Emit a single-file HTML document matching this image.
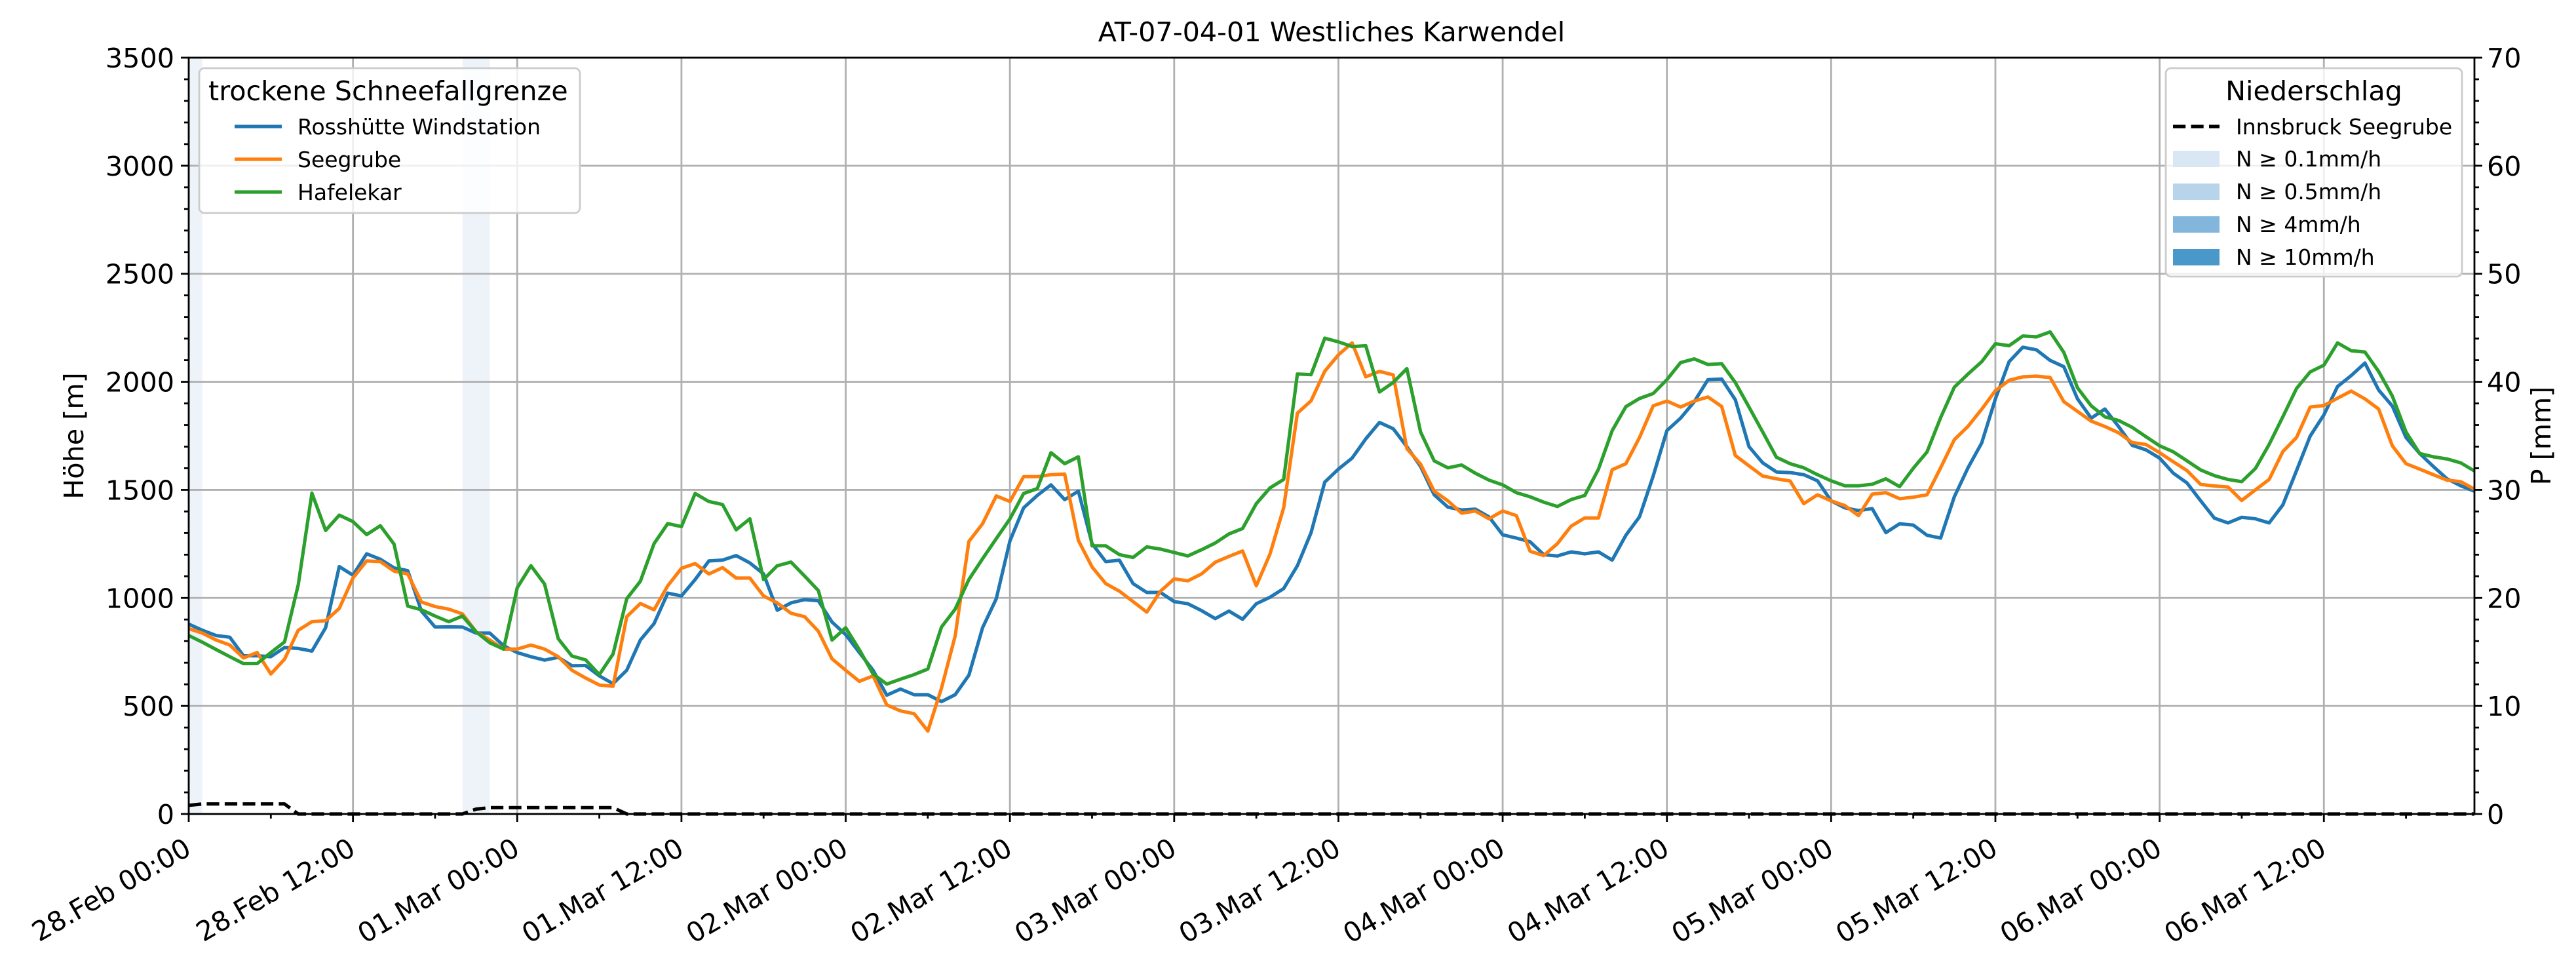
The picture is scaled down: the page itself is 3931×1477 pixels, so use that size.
<!DOCTYPE html>
<html><head><meta charset="utf-8">
<style>
html,body{margin:0;padding:0;background:#fff;}
svg{display:block;font-family:"DejaVu Sans","Liberation Sans",sans-serif;}
</style></head>
<body>
<svg id="chart" width="3931" height="1477" viewBox="0 0 3931 1477" xmlns="http://www.w3.org/2000/svg">
<rect x="0" y="0" width="3931" height="1477" fill="#fff"/>
<g id="spans"></g>
<g id="grid"></g>
<g id="series"></g>
<g id="axes"></g>
<g id="legends"></g>
</svg>
<script>
const xTickLabels = ["28.Feb 00:00","28.Feb 12:00","01.Mar 00:00","01.Mar 12:00","02.Mar 00:00","02.Mar 12:00","03.Mar 00:00","03.Mar 12:00","04.Mar 00:00","04.Mar 12:00","05.Mar 00:00","05.Mar 12:00","06.Mar 00:00","06.Mar 12:00"];
const yTicks = [0,500,1000,1500,2000,2500,3000,3500];
const pTicks = [0,10,20,30,40,50,60,70];
const rosshuette = [879,850,826,818,732,732,728,770,766,754,862,1145,1105,1204,1179,1139,1126,939,865,866,865,837,837,779,747,728,712,725,686,687,639,603,665,805,881,1022,1009,1085,1171,1175,1196,1162,
1111,943,977,992,987,888,830,747,665,550,578,552,552,520,552,642,862,996,1264,1417,1474,1523,1455,1494,1251,1168,1174,1066,1025,1025,983,973,941,904,939,901,973,1003,1043,1149,1302,1536,
1596,1647,1736,1812,1783,1700,1608,1477,1420,1407,1411,1375,1292,1277,1260,1200,1194,1213,1204,1213,1175,1290,1375,1564,1774,1832,1908,2010,2013,1917,1700,1625,1583,1580,1570,1542,1449,1417,1404,1413,1302,1343,
1337,1290,1277,1468,1602,1717,1921,2093,2160,2148,2099,2070,1921,1832,1874,1793,1706,1685,1647,1577,1532,1449,1369,1347,1373,1366,1347,1430,1589,1749,1847,1978,2029,2087,1962,1888,1742,1668,1608,1551,1519,1494];
const seegrube = [858,837,805,782,722,747,648,716,850,890,894,951,1092,1171,1168,1124,1111,981,960,948,926,843,805,763,763,782,763,728,665,629,597,591,913,974,945,1056,1137,1159,1111,1140,1092,1092,
1009,977,929,913,846,718,665,614,639,505,477,464,384,582,824,1261,1343,1472,1446,1561,1561,1570,1573,1266,1143,1066,1031,983,934,1031,1088,1079,1111,1165,1192,1217,1056,1203,1417,1855,1912,2049,
2125,2180,2023,2048,2032,1691,1619,1494,1449,1392,1402,1366,1402,1381,1216,1196,1251,1332,1370,1370,1593,1621,1742,1889,1911,1883,1911,1930,1886,1659,1611,1564,1551,1541,1436,1477,1449,1427,1381,1480,1487,1459,
1466,1477,1602,1732,1794,1873,1959,2007,2023,2026,2020,1908,1863,1818,1793,1764,1719,1710,1672,1630,1589,1525,1518,1513,1451,1500,1548,1677,1742,1883,1890,1924,1957,1921,1874,1704,1621,1596,1570,1545,1538,1503];
const hafelekar = [826,795,761,728,696,696,747,796,1060,1485,1312,1383,1353,1293,1334,1249,962,945,916,890,916,843,792,763,1047,1149,1064,811,731,713,645,740,996,1077,1251,1344,1330,1483,1446,1432,1315,1366,
1085,1149,1166,1101,1034,805,862,760,648,601,624,645,671,865,948,1085,1181,1274,1366,1483,1506,1672,1621,1653,1241,1241,1200,1187,1236,1226,1210,1194,1223,1254,1296,1321,1436,1509,1548,2036,2033,2202,
2185,2163,2167,1953,1997,2061,1768,1634,1602,1615,1577,1545,1523,1487,1468,1443,1423,1455,1474,1596,1774,1885,1923,1946,2010,2089,2106,2080,2084,1997,1883,1768,1651,1621,1602,1570,1542,1519,1519,1526,1551,1515,
1600,1675,1834,1975,2036,2093,2176,2167,2212,2208,2231,2136,1972,1889,1838,1821,1789,1746,1704,1676,1634,1592,1566,1548,1538,1599,1710,1838,1969,2046,2077,2180,2144,2138,2048,1934,1768,1668,1653,1643,1625,1587];
const precip = [0.8,0.93,0.93,0.93,0.93,0.93,0.93,0.93,0,0,0,0,0,0,0,0,0,0,0,0,0,0.45,0.59,0.59,0.59,0.59,0.59,0.59,0.59,0.59,0.59,0.59,0,0,0,0,0,0,0,0,0,0,0,0,0,0,0,0,0,0,0,0,0,0,0,0,0,0,0,0,0,0,0,0,0,0,0,0,0,0,0,0,0,0,0,0,0,0,0,0,0,0,0,0,0,0,0,0,0,0,0,0,0,0,0,0,0,0,0,0,0,0,0,0,0,0,0,0,0,0,0,0,0,0,0,0,0,0,0,0,0,0,0,0,0,0,0,0,0,0,0,0,0,0,0,0,0,0,0,0,0,0,0,0,0,0,0,0,0,0,0,0,0,0,0,0,0,0,0,0,0,0,0,0,0,0,0,0];
const precipSpanStart = [0,20];
const precipSpanEnd = [1,22];

const L=288,R=3776,T=88,B=1242,HMAX=167;
const xs=h=>L+h*(R-L)/HMAX;
const yL=v=>B-v*(B-T)/3500;
const yR=p=>B-p*(B-T)/70;
const FS=41.3, FL=33;
const NS="http://www.w3.org/2000/svg";
function mk(tag,attrs,parent){const e=document.createElementNS(NS,tag);for(const k in attrs)e.setAttribute(k,attrs[k]);parent.appendChild(e);return e;}
const gSp=document.getElementById('spans'),gGr=document.getElementById('grid'),gSe=document.getElementById('series'),gAx=document.getElementById('axes'),gLg=document.getElementById('legends');

precipSpanStart.forEach((s,i)=>{
  const r=mk('rect',{x:xs(s),y:T,width:xs(precipSpanEnd[i])-xs(s),height:B-T,fill:'#eef3fa'},gSp);
  
  
});
xTickLabels.forEach((lab,i)=>{const x=xs(i*12);
  const l=mk('line',{x1:x,y1:T,x2:x,y2:B,stroke:'#b0b0b0','stroke-width':2.8},gGr);
  
  
});
yTicks.forEach(v=>{const y=yL(v);
  const l=mk('line',{x1:L,y1:y,x2:R,y2:y,stroke:'#b0b0b0','stroke-width':2.8},gGr);
  
  
});
function line(arr,color,name){
  const pts=arr.map((v,i)=>xs(i).toFixed(1)+','+yL(v).toFixed(1)).join(' ');
  const p=mk('polyline',{points:pts,fill:'none',stroke:color,'stroke-width':5.2,'stroke-linejoin':'round'},gSe);
  
  
}
line(rosshuette,'#1f77b4','rosshuette-line');
line(seegrube,'#ff7f0e','seegrube-line');
line(hafelekar,'#2ca02c','hafelekar-line');
const pp=mk('polyline',{points:precip.map((v,i)=>xs(i).toFixed(1)+','+yR(v).toFixed(1)).join(' '),fill:'none',stroke:'#000','stroke-width':5.2,'stroke-dasharray':'19.2 8.3'},gSe);



const fr=mk('rect',{x:L,y:T,width:R-L,height:B-T,fill:'none',stroke:'#000','stroke-width':2.8},gAx);


function txt(s,attrs,name){const t=mk('text',attrs,gAx);t.textContent=s;
  
  
  return t;}
for(let h=0;h<=HMAX;h+=6){const x=xs(h);const major=h%12===0;
  mk('line',{x1:x,y1:B,x2:x,y2:B+(major?12:7),stroke:'#000','stroke-width':2.8},gAx);}
xTickLabels.forEach((lab,i)=>{const x=xs(i*12)-9,y=B+34;
  txt(lab,{x:x,y:y,'font-size':FS,'text-anchor':'end','dominant-baseline':'hanging',transform:`rotate(-30 ${x} ${y})`},'x-tick-label');});
for(let v=0;v<=3500;v+=100){const y=yL(v);const major=v%500===0;
  mk('line',{x1:L,y1:y,x2:L-(major?12:7),y2:y,stroke:'#000','stroke-width':2.8},gAx);}
yTicks.forEach(v=>txt(String(v),{x:L-22,y:yL(v)+15,'font-size':FS,'text-anchor':'end'},'y-tick-label'));
for(let p=0;p<=70;p+=2){const y=yR(p);const major=p%10===0;
  mk('line',{x1:R,y1:y,x2:R+(major?12:7),y2:y,stroke:'#000','stroke-width':2.8},gAx);}
pTicks.forEach(p=>txt(String(p),{x:R+19,y:yR(p)+15,'font-size':FS,'text-anchor':'start'},'p-tick-label'));
txt('Höhe [m]',{x:127,y:665,'font-size':FS,'text-anchor':'middle',transform:'rotate(-90 127 665)'},'y-axis-title');
txt('P [mm]',{x:3892,y:665,'font-size':FS,'text-anchor':'middle',transform:'rotate(-90 3892 665)'},'y2-axis-title');
txt('AT-07-04-01 Westliches Karwendel',{x:(L+R)/2,y:63,'font-size':FS,'text-anchor':'middle'},'chart-title');

function lg(s,attrs,name){const t=mk('text',attrs,gLg);t.textContent=s;
  
  }
const b1=mk('rect',{x:304,y:104,width:581,height:221,rx:8,fill:'rgba(255,255,255,0.8)',stroke:'#cccccc','stroke-width':2.8},gLg);


lg('trockene Schneefallgrenze',{x:318,y:153,'font-size':FS},'legend-title');
[['Rosshütte Windstation','#1f77b4'],['Seegrube','#ff7f0e'],['Hafelekar','#2ca02c']].forEach((e,i)=>{
  const y=193+i*50;
  mk('line',{x1:358,y1:y,x2:430,y2:y,stroke:e[1],'stroke-width':5.2},gLg);
  lg(e[0],{x:454,y:y+12,'font-size':FL},'legend-entry');});
const b2=mk('rect',{x:3305,y:104,width:452,height:318,rx:8,fill:'rgba(255,255,255,0.8)',stroke:'#cccccc','stroke-width':2.8},gLg);


lg('Niederschlag',{x:3531,y:153,'font-size':FS,'text-anchor':'middle'},'legend-title');
mk('line',{x1:3316,y1:193,x2:3387,y2:193,stroke:'#000','stroke-width':5.2,'stroke-dasharray':'19.2 8.3'},gLg);
lg('Innsbruck Seegrube',{x:3412,y:205,'font-size':FL},'legend-entry');
[['N ≥ 0.1mm/h','#d9e7f5'],['N ≥ 0.5mm/h','#b8d4ea'],['N ≥ 4mm/h','#82b6dc'],['N ≥ 10mm/h','#4a97c9']].forEach((e,i)=>{
  const y=242+i*50;
  mk('rect',{x:3316,y:y-12,width:71,height:25,fill:e[1]},gLg);
  lg(e[0],{x:3412,y:y+12,'font-size':FL},'legend-entry');});
</script>
</body></html>
